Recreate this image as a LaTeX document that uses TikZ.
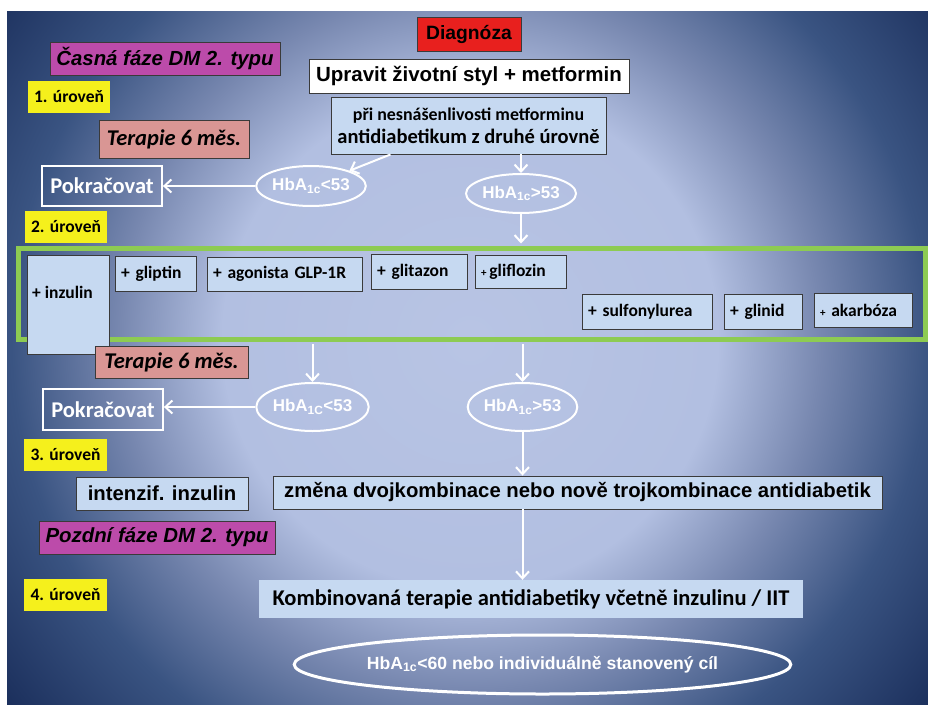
\documentclass[tikz,border=0pt]{standalone}
\usepackage{fontspec}
\setmainfont{Carlito}
\newfontfamily\arialf{Liberation Sans}
\usetikzlibrary{shapes.geometric,arrows.meta,calc}
\definecolor{bglight}{HTML}{B8C4E4}
\definecolor{bglightb}{HTML}{B2BFE1}
\definecolor{bgmid}{HTML}{7888B0}
\definecolor{bgmidb}{HTML}{3A5482}
\definecolor{bgdark}{HTML}{1B2F5C}
\definecolor{bordc}{HTML}{3A3A3A}
\definecolor{lblue}{HTML}{C6D9F1}
\definecolor{redbox}{HTML}{E8201E}
\definecolor{magbox}{HTML}{BC4BAA}
\definecolor{salmon}{HTML}{D99694}
\definecolor{uyellow}{HTML}{F5F01C}
\definecolor{greenl}{HTML}{8DCB52}
\pgfdeclareradialshading{bgshade}{\pgfpoint{0bp}{0bp}}{color(0bp)=(bglight); color(10bp)=(bglightb); color(14.1bp)=(bgmid); color(18.5bp)=(bgmidb); color(23.8bp)=(bgdark); color(25bp)=(bgdark); color(50bp)=(bgdark)}
\begin{document}
\begin{tikzpicture}[x=1pt,y=-1pt,
  bx/.style={draw=bordc, line width=0.9pt, inner sep=0pt, align=center},
  lbbox/.style={bx, fill=lblue},
  fa/.style={font=\arialf\bfseries\fontsize{20.3}{24}\selectfont},
  fai/.style={font=\arialf\bfseries\itshape\fontsize{20.4}{24}\selectfont},
  ulabel/.style={fill=uyellow, inner sep=0pt, minimum width=82pt, minimum height=32pt, font=\bfseries\fontsize{17.5}{20}\selectfont},
  magstyle/.style={bx, fill=magbox, fai},
  terstyle/.style={bx, fill=salmon, font=\bfseries\itshape\fontsize{22.5}{26}\selectfont},
  pokstyle/.style={draw=white, line width=1.8pt, inner sep=0pt, text=white, minimum width=120pt, minimum height=40pt, font=\bfseries\fontsize{22.5}{26}\selectfont},
  hba/.style={ellipse, draw=white, line width=2pt, inner sep=0pt, text=white, font=\arialf\bfseries\fontsize{17}{20}\selectfont},
  drug/.style={draw=bordc, line width=0.9pt, fill=lblue, inner xsep=6pt, inner ysep=0pt, align=left, font=\bfseries\fontsize{17.5}{20}\selectfont},
  arr/.style={draw=white, line width=2pt, -{Straight Barb[length=7pt,width=13pt]}}
]
% background
\fill[white] (0,0) rectangle (928,704);
\begin{scope}
  \clip (7,11) rectangle (928,704);
  \shade[shading=bgshade] (470,340) circle[radius=620];
\end{scope}

% top
\node[bx, fill=redbox, minimum width=104pt, minimum height=34pt, font=\arialf\bfseries\fontsize{19.3}{22}\selectfont] (diag) at (469,34) {Diagnóza};
\node[bx, fill=white, minimum width=320pt, minimum height=34pt, font=\arialf\bfseries\fontsize{20.5}{24}\selectfont] (upr) at (469,76) {Upravit životní styl + metformin};
\node[lbbox, minimum width=275pt, minimum height=57pt, font=\bfseries\fontsize{20.5}{24}\selectfont] (pri) at (468.5,125.5) {{\fontsize{17.9}{20}\selectfont při nesnášenlivosti metforminu}\\[-1pt]antidiabetikum z druhé úrovně};

\node[magstyle, minimum width=230pt, minimum height=33pt] (casna) at (165,58.5) {Časná fáze DM 2. typu};
\node[ulabel] (u1) at (69,97) {1. úroveň};
\node[terstyle, minimum width=150pt, minimum height=38pt] (ter1) at (174,139) {Terapie 6 měs.};
\node[pokstyle] (pok1) at (102,186) {Pokračovat};
\node[hba, minimum width=102pt, minimum height=40pt] (e1) at (311,186) {HbA\textsubscript{1c}<53};
\node[hba, minimum width=110pt, minimum height=39pt] (e2) at (521,193.5) {HbA\textsubscript{1c}>53};
\node[ulabel] (u2) at (66,227) {2. úroveň};

% group of drugs
\node[draw=greenl, line width=5pt, minimum width=907pt, minimum height=91pt, inner sep=0pt] (grp) at (471.5,293.5) {};
\node[drug, minimum width=82pt, minimum height=99pt] (inz) at (68,304.5) {};
\node[anchor=west, inner sep=0pt, font=\bfseries\fontsize{17.5}{20}\selectfont] (inzt) at (32,292) {+ inzulin};
\node[drug, text width=69pt, minimum height=35pt] (glip) at (155.5,273.5) {+ gliptin};
\node[drug, text width=143pt, minimum height=34pt] (ago) at (284.5,274) {+ agonista GLP-1R};
\node[drug, text width=84pt, minimum height=35pt] (glit) at (419,271.5) {+ glitazon};
\node[drug, text width=79pt, minimum height=33pt] (glif) at (520.5,271.5) {{\fontsize{11}{12}\selectfont+}\,gliflozin};
\node[drug, text width=118pt, minimum height=35pt] (sulf) at (647,311.5) {+ sulfonylurea};
\node[drug, text width=66pt, minimum height=35pt] (glin) at (763,311.5) {+ glinid};
\node[drug, text width=86pt, minimum height=34pt] (akar) at (863,310) {{\fontsize{11}{12}\selectfont+} akarbóza};

\node[terstyle, minimum width=153pt, minimum height=32pt] (ter2) at (171.5,362) {Terapie 6 měs.};
\node[hba, minimum width=107pt, minimum height=48pt] (e3) at (312.5,407) {HbA\textsubscript{1C}<53};
\node[pokstyle, minimum height=41pt] (pok2) at (103,409.5) {Pokračovat};
\node[hba, minimum width=107pt, minimum height=48pt] (e4) at (522.5,407) {HbA\textsubscript{1c}>53};
\node[ulabel, minimum width=83pt] (u3) at (65.5,455) {3. úroveň};

\node[lbbox, fa, minimum width=172pt, minimum height=33pt] (intz) at (162,493.5) {intenzif. inzulin};
\node[lbbox, fa, minimum width=609pt, minimum height=33pt] (zmena) at (577.5,492.5) {změna dvojkombinace nebo nově trojkombinace antidiabetik};
\node[magstyle, minimum width=236pt, minimum height=33pt] (pozd) at (157,537.5) {Pozdní fáze DM 2. typu};
\node[ulabel, minimum width=83pt] (u4) at (65.5,595) {4. úroveň};
\node[fill=lblue, inner sep=0pt, minimum width=544pt, minimum height=38pt, font=\bfseries\fontsize{22.5}{26}\selectfont] (komb) at (531,599) {Kombinovaná terapie antidiabetiky včetně inzulinu / IIT};
\node[hba, line width=3pt, minimum width=417pt, minimum height=59pt, font=\arialf\bfseries\fontsize{17.6}{20}\selectfont] (e5) at (542.5,664.5) {HbA\textsubscript{1c}<60 nebo individuálně stanovený cíl};

% connectors
\draw[arr] ([xshift=-78pt]pri.south) -- (e1);
\draw[arr] (e2 |- pri.south) -- (e2.north);
\draw[arr] (e1.west) -- (pok1.east);
\draw[arr] (e2.south) -- ([yshift=2pt]e2.south |- grp.north);
\draw[arr] ([yshift=-2.5pt]grp.south -| e3.north) -- (e3.north);
\draw[arr] ([yshift=-2.5pt]grp.south -| e4.north) -- (e4.north);
\draw[arr] (e3.west) -- (e3.west -| pok2.east);
\draw[arr] (e4.south) -- (e4.south |- zmena.north);
\draw[arr] (zmena.south -| e4.south) -- (komb.north -| e4.south);
\end{tikzpicture}
\end{document}
